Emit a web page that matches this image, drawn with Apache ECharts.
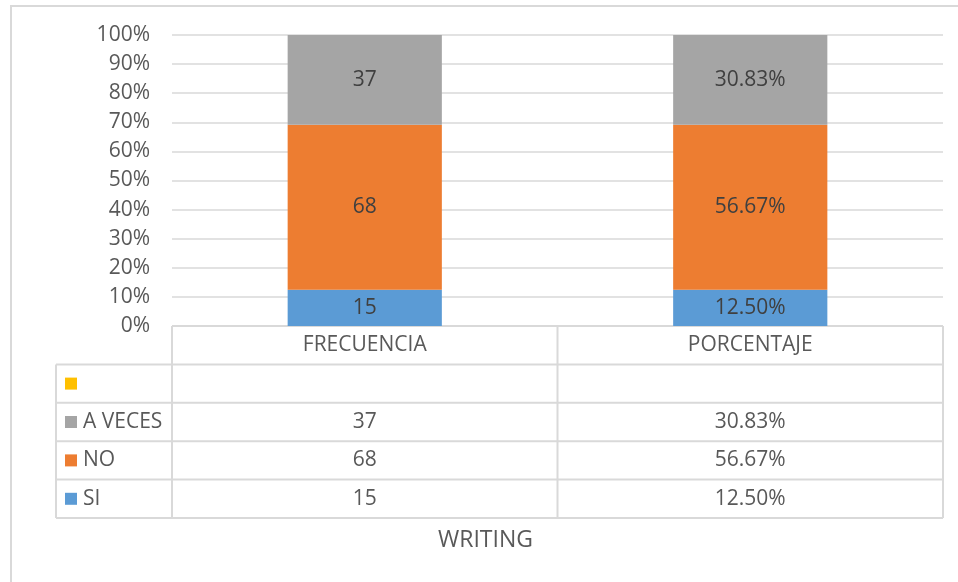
<!DOCTYPE html>
<html>
<head>
<meta charset="utf-8">
<script src="https://cdn.jsdelivr.net/npm/echarts@6/dist/echarts.min.js"></script>
<style>
html,body{margin:0;padding:0;background:#fff;}
#chart{width:958px;height:582px;}
</style>
</head>
<body>
<div id="chart"></div>
<script>
// ---- data ----
var categories = ['FRECUENCIA', 'PORCENTAJE'];
var siValues = [15, 12.50];
var noValues = [68, 56.67];
var avecesValues = [37, 30.83];
var blankValues = [null, null];
var yTickLabels = ['0%','10%','20%','30%','40%','50%','60%','70%','80%','90%','100%'];
var title = 'WRITING';

// series in stacking order (bottom to top)
var seriesDefs = [
  {name: 'SI', values: siValues, color: '#5B9BD5'},
  {name: 'NO', values: noValues, color: '#ED7D31'},
  {name: 'A VECES', values: avecesValues, color: '#A5A5A5'},
  {name: '', values: blankValues, color: '#FFC000'}
];

var FONT = 'Open Sans';
var TXT = '#595959';
var LINE = '#D9D9D9';
var FS = 21;

function fmt(catIdx, v) {
  if (v === null || v === undefined) return '';
  return catIdx === 0 ? String(v) : v.toFixed(2) + '%';
}

var totals = categories.map(function (c, i) {
  return seriesDefs.reduce(function (s, d) { return s + (d.values[i] || 0); }, 0);
});

var series = seriesDefs.map(function (d) {
  return {
    name: d.name,
    type: 'bar',
    stack: 'total',
    barWidth: '40%',
    itemStyle: {color: d.color},
    label: {
      show: true,
      position: 'inside',
      color: '#404040',
      fontFamily: FONT,
      fontSize: FS,
      formatter: function (p) { return fmt(p.dataIndex, d.values[p.dataIndex]); }
    },
    data: d.values.map(function (v, i) { return v === null ? null : v / totals[i]; })
  };
});

var chart = echarts.init(document.getElementById('chart'));
var grid = {left: 172, right: 15, top: 35, bottom: 256};
chart.setOption({
  animation: false,
  grid: grid,
  xAxis: {
    type: 'category',
    data: categories,
    axisLine: {show: false},
    axisTick: {show: false},
    axisLabel: {show: false}
  },
  yAxis: {
    type: 'value',
    min: 0, max: 1, interval: 0.1,
    axisLine: {show: false},
    axisTick: {show: false},
    axisLabel: {
      color: TXT, fontFamily: FONT, fontSize: FS, margin: 22,
      formatter: function (v) { return yTickLabels[Math.round(v * 10)]; }
    },
    splitLine: {lineStyle: {color: LINE, width: 1.5}}
  },
  series: series
});

// ---- data table drawn below the plot, positioned from the axes ----
var W = 958, H = 582;
var x0 = grid.left, x2 = W - grid.right;
var yBase = chart.convertToPixel({gridIndex: 0}, [0, 0])[1];
var c0 = chart.convertToPixel({xAxisIndex: 0}, categories[0]);
var c1 = chart.convertToPixel({xAxisIndex: 0}, categories[1]);
var x1 = (c0 + c1) / 2;
var rowH = 38.4;
var legendLeft = 56;
var tableRows = seriesDefs.slice().reverse(); // yellow, A VECES, NO, SI
var yEnd = yBase + rowH * (tableRows.length + 1);

var g = [];
function hline(y, xa, xb) {
  g.push({type: 'line', shape: {x1: xa, y1: y, x2: xb, y2: y}, style: {stroke: LINE, lineWidth: 2}});
}
function vline(x, ya, yb) {
  g.push({type: 'line', shape: {x1: x, y1: ya, x2: x, y2: yb}, style: {stroke: LINE, lineWidth: 2}});
}
// outer chart border
g.push({type: 'rect', shape: {x: 11, y: 6, width: W + 20, height: H + 20}, style: {fill: null, stroke: LINE, lineWidth: 2}});

hline(yBase, x0, x2);
for (var r = 1; r <= tableRows.length + 1; r++) hline(yBase + rowH * r, legendLeft, x2);
vline(legendLeft, yBase + rowH, yEnd);
vline(x0, yBase, yEnd);
vline(x1, yBase, yEnd);
vline(x2, yBase, yEnd);

var font = FS + 'px "' + FONT + '"';
// header
[c0, c1].forEach(function (cx, i) {
  g.push({type: 'text', x: cx, y: yBase + rowH / 2, style: {text: categories[i], fill: TXT, font: font, align: 'center', verticalAlign: 'middle'}});
});
// rows
tableRows.forEach(function (d, r) {
  var cy = yBase + rowH * (r + 1.5);
  g.push({type: 'rect', shape: {x: legendLeft + 9, y: cy - 6, width: 12, height: 12}, style: {fill: d.color}});
  g.push({type: 'text', x: legendLeft + 27, y: cy, style: {text: d.name, fill: TXT, font: font, align: 'left', verticalAlign: 'middle'}});
  [c0, c1].forEach(function (cx, i) {
    g.push({type: 'text', x: cx, y: cy, style: {text: fmt(i, d.values[i]), fill: TXT, font: font, align: 'center', verticalAlign: 'middle'}});
  });
});
// axis title
g.push({type: 'text', x: (x0 + x2) / 2 - 72, y: yEnd + 22, style: {text: title, fill: TXT, font: '23px "' + FONT + '"', align: 'center', verticalAlign: 'middle'}});

chart.setOption({graphic: {elements: g}});
</script>
</body>
</html>
